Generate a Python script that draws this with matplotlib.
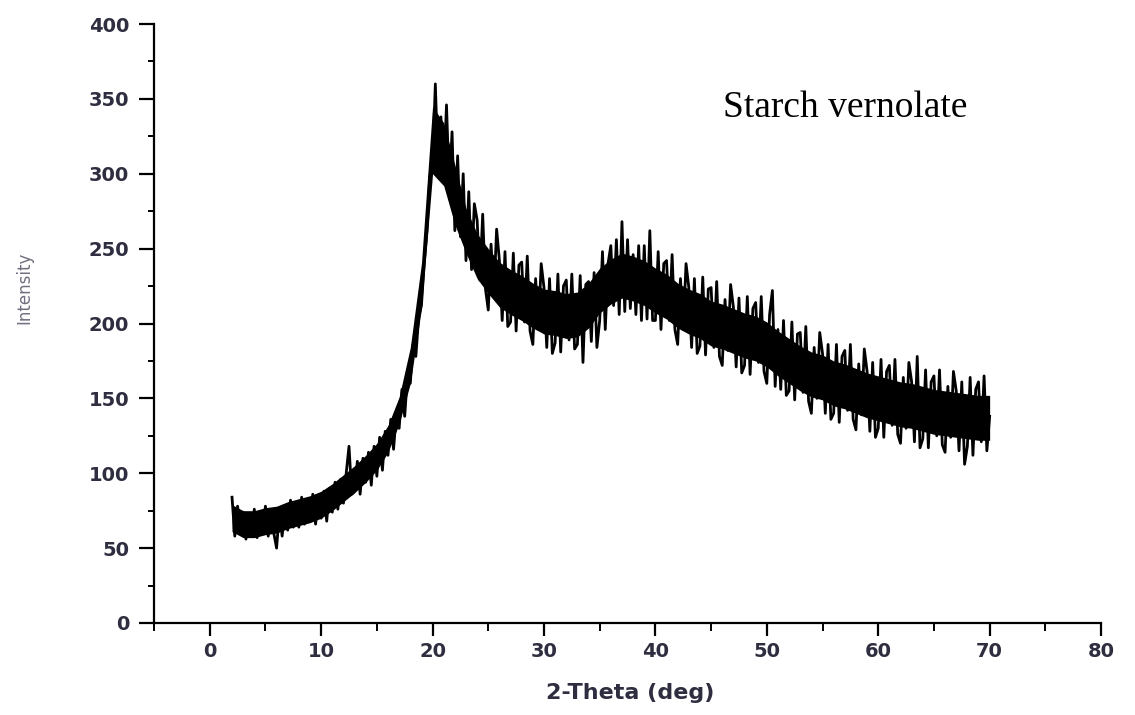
import matplotlib
matplotlib.use('Agg')
import matplotlib.pyplot as plt
from matplotlib.ticker import MultipleLocator
import numpy as np

# XRD trace, one row per degree (2-Theta step 0.25)
two_theta_start = 2.0
two_theta_step = 0.25
intensity = [
    84, 58, 78, 62,      # 2
    74, 56, 70, 58,      # 3
    76, 57, 72, 60,      # 4
    78, 58, 74, 60,      # 5
    50, 74, 58, 78,      # 6
    62, 82, 64, 80,      # 7
    64, 84, 66, 82,      # 8
    68, 86, 66, 84,      # 9
    70, 88, 68, 90,      # 10
    74, 94, 76, 96,      # 11
    80, 100, 118, 86,    # 12
    88, 108, 86, 110,    # 13
    94, 114, 92, 118,    # 14
    98, 124, 102, 128,   # 15
    112, 136, 116, 140,  # 16
    130, 156, 138, 166,  # 17
    160, 186, 178, 204,  # 18
    212, 240, 262, 298,  # 19
    306, 360, 300, 338,  # 20
    296, 346, 290, 328,  # 21
    262, 312, 258, 300,  # 22
    242, 288, 236, 280,  # 23
    269, 229, 273, 223,  # 24
    209, 253, 219, 263,  # 25
    242, 202, 248, 198,  # 26
    201, 247, 195, 239,  # 27
    241, 201, 245, 195,  # 28
    186, 230, 196, 240,  # 29
    224, 184, 230, 180,  # 30
    187, 233, 181, 225,  # 31
    229, 189, 233, 183,  # 32
    186, 232, 174, 226,  # 33
    228, 188, 234, 184,  # 34
    202, 248, 196, 240,  # 35
    252, 212, 256, 206,  # 36
    268, 208, 256, 210,  # 37
    246, 206, 252, 202,  # 38
    252, 203, 262, 202,  # 39
    202, 248, 196, 240,  # 40
    242, 202, 246, 196,  # 41
    186, 230, 196, 240,  # 42
    224, 184, 230, 180,  # 43
    185, 231, 179, 223,  # 44
    224, 184, 228, 178,  # 45
    172, 216, 182, 226,  # 46
    211, 171, 217, 167,  # 47
    172, 218, 166, 210,  # 48
    214, 174, 218, 168,  # 49
    160, 206, 222, 158,  # 50
    196, 156, 202, 152,  # 51
    155, 201, 149, 193,  # 52
    194, 154, 198, 148,  # 53
    140, 184, 150, 194,  # 54
    180, 140, 186, 136,  # 55
    140, 186, 134, 178,  # 56
    182, 142, 186, 136,  # 57
    129, 173, 139, 183,  # 58
    168, 128, 174, 124,  # 59
    130, 176, 124, 168,  # 60
    172, 132, 176, 126,  # 61
    120, 164, 130, 174,  # 62
    161, 121, 178, 117,  # 63
    123, 169, 117, 161,  # 64
    165, 125, 169, 119,  # 65
    114, 158, 124, 168,  # 66
    155, 115, 161, 106,  # 67
    118, 164, 112, 156,  # 68
    161, 121, 165, 115,  # 69
    138,                 # 70
]
two_theta = two_theta_start + two_theta_step * np.arange(len(intensity))

# solid core of the noisy band, read per whole degree (2 .. 70)
band_theta = list(range(2, 71))
band_low = [61, 57, 57, 59, 60, 63, 65, 67, 70, 75, 81, 87, 94, 102, 114, 133,
            160, 210, 300, 292, 266,
            247, 230, 220, 211, 206, 202, 197, 193, 192, 190, 191, 197, 207, 213, 217,
            215, 212, 207, 203, 197, 193, 190, 185, 183, 180, 177, 175, 171, 165, 160,
            155, 151, 149, 145, 143, 140, 137, 135, 133, 131, 130, 128, 126, 125, 124,
            123, 122, 122]
band_high = [79, 75, 75, 77, 78, 81, 83, 85, 88, 93, 99, 105, 112, 120, 132, 151,
             184, 240, 345, 334, 306,
             277, 260, 250, 241, 236, 232, 227, 223, 222, 220, 221, 227, 237, 243, 247,
             245, 242, 237, 233, 227, 223, 220, 215, 213, 210, 207, 205, 201, 195, 190,
             185, 181, 179, 175, 173, 170, 167, 165, 163, 161, 160, 158, 156, 155, 154,
             153, 152, 152]

x_ticks = [0, 10, 20, 30, 40, 50, 60, 70, 80]
y_ticks = [0, 50, 100, 150, 200, 250, 300, 350, 400]
tick_color = '#2e2e40'

fig = plt.figure(figsize=(11.35, 7.15), dpi=100)
ax = fig.add_axes([0.1357, 0.1287, 0.8344, 0.8377])

ax.fill_between(band_theta, band_low, band_high, color='black', lw=0)
ax.plot(two_theta, intensity, color='black', lw=2)

ax.set_xlim(-5, 80)
ax.set_ylim(0, 400)
ax.set_xticks(x_ticks)
ax.set_yticks(y_ticks)
ax.xaxis.set_minor_locator(MultipleLocator(5))
ax.yaxis.set_minor_locator(MultipleLocator(25))

for s in ['top', 'right']:
    ax.spines[s].set_visible(False)
for s in ['left', 'bottom']:
    ax.spines[s].set_linewidth(1.6)

ax.tick_params(axis='x', which='major', length=9.5, width=1.6, pad=4)
ax.tick_params(axis='x', which='minor', length=6, width=1.4)
ax.tick_params(axis='y', which='major', length=11, width=1.6, pad=7)
ax.tick_params(axis='y', which='minor', length=4, width=1.4)
for lab in ax.get_xticklabels() + ax.get_yticklabels():
    lab.set_fontfamily('DejaVu Sans')
    lab.set_fontweight('bold')
    lab.set_fontsize(14)
    lab.set_color(tick_color)

fig.text(24 / 1135, 1 - 288 / 715, 'Intensity', rotation=90, ha='center', va='center',
         fontsize=12, color='#707080', family='DejaVu Sans')
fig.text(630 / 1135, 1 - 693 / 715, '2-Theta (deg)', ha='center', va='center',
         fontsize=16, fontweight='bold', color=tick_color, family='DejaVu Sans')
fig.text(723 / 1135, 1 - 117 / 715, 'Starch vernolate', ha='left', va='baseline',
         fontsize=27, color='black', family='Liberation Serif')

fig.savefig('out.png', dpi=100)
